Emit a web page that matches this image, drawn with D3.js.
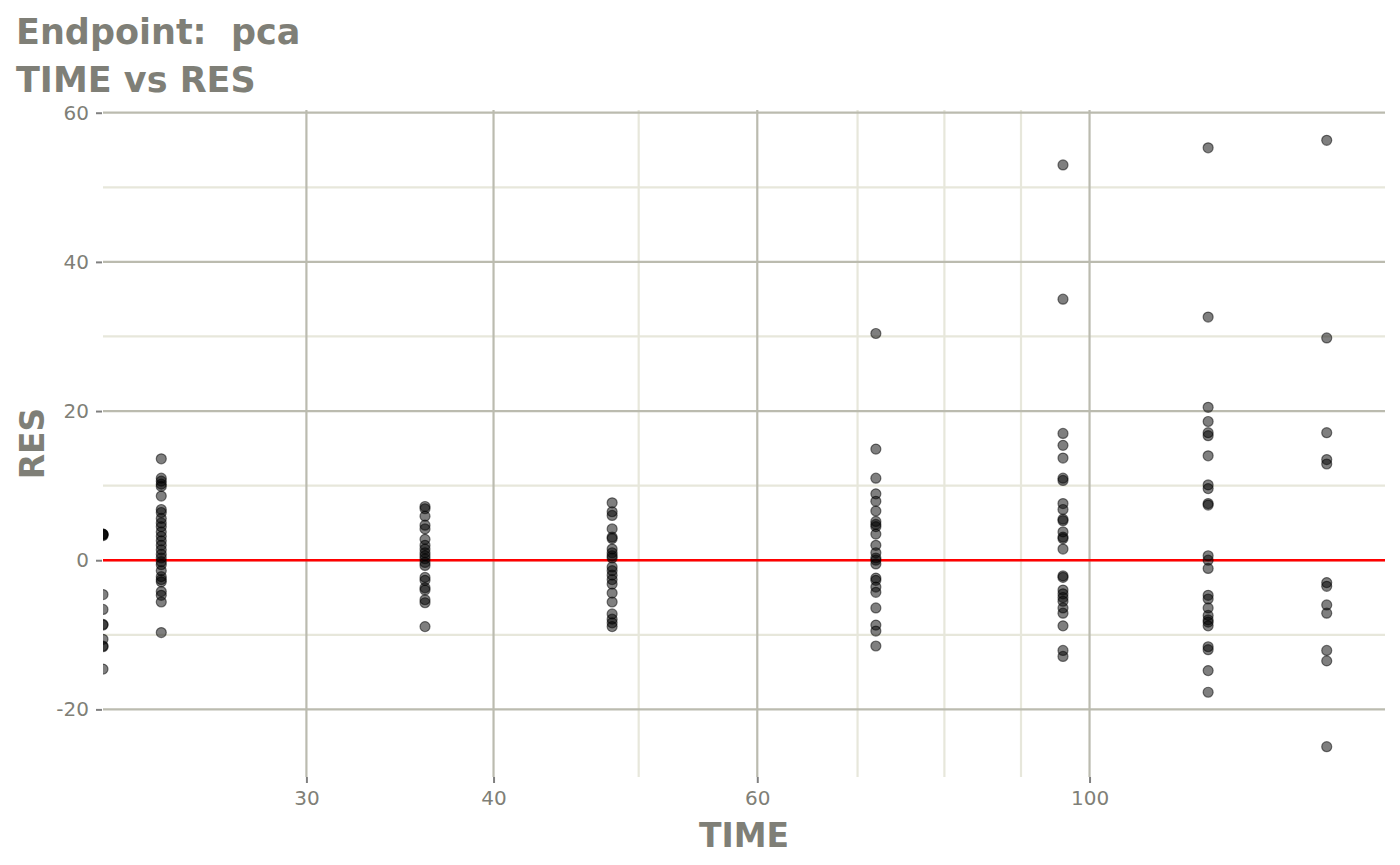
<!DOCTYPE html>
<html>
<head>
<meta charset="utf-8">
<script src="https://cdn.jsdelivr.net/npm/d3@7"></script>
<style>
  html, body { margin: 0; padding: 0; background: #ffffff; }
  svg { display: block; font-family: "DejaVu Sans", sans-serif; }
</style>
</head>
<body>
<svg id="chart" width="1400" height="865"></svg>
<script>
// ---- data ----
const titleLines = ["Endpoint:  pca", "TIME vs RES"];
const xLabel = "TIME";
const yLabel = "RES";
const times = [0, 24, 36, 48, 72, 96, 120, 144];
const res0   = [3.5, 3.4, 3.5, 3.3, -4.6, -6.6, -8.7, -8.6, -10.6, -11.5, -11.6, -14.6];
const res24  = [13.6, 11.0, 10.6, 10.2, 9.9, 8.6, 6.8, 6.4, 5.6, 5.0, 4.5, 3.8, 3.2, 2.6, 2.0, 1.4, 0.8, 0.3, -0.2, -0.6, -1.4, -2.2, -2.6, -2.9, -4.2, -4.7, -5.6, -9.7];
const res36  = [7.2, 6.9, 5.9, 4.7, 4.2, 2.8, 2.0, 1.5, 1.0, 0.6, 0.2, -0.3, -0.7, -2.3, -2.7, -3.7, -4.0, -5.3, -5.7, -8.9];
const res48  = [7.7, 6.5, 6.0, 4.2, 3.1, 2.9, 1.5, 1.0, 0.6, 0.3, -0.9, -1.4, -2.0, -2.6, -3.2, -4.4, -5.6, -7.2, -7.9, -8.4, -8.9];
const res72  = [30.4, 14.9, 11.0, 8.9, 7.9, 6.6, 5.2, 4.8, 4.5, 3.5, 2.0, 1.0, 0.3, 0.0, -0.5, -2.4, -2.7, -3.6, -4.3, -6.4, -8.7, -9.5, -11.5];
const res96  = [53.0, 35.0, 17.0, 15.4, 13.7, 11.0, 10.7, 7.6, 6.8, 5.5, 5.3, 3.8, 3.1, 2.9, 1.5, -2.1, -2.3, -4.0, -4.5, -5.0, -5.5, -6.4, -7.1, -8.8, -12.1, -12.9];
const res120 = [55.3, 32.6, 20.5, 18.6, 17.1, 16.7, 14.0, 10.1, 9.6, 7.6, 7.4, 0.6, 0.0, -1.1, -4.7, -5.2, -6.4, -7.4, -8.0, -8.3, -8.8, -11.6, -12.0, -14.8, -17.7];
const res144 = [56.3, 29.8, 17.1, 13.5, 12.9, -3.0, -3.5, -6.0, -7.1, -12.1, -13.5, -25.0];
const resByTime = [res0, res24, res36, res48, res72, res96, res120, res144];
const xMajorTicks = [30, 40, 60, 100];
const xMinorTicks = [50, 70, 80, 90];
const yMajorTicks = [-20, 0, 20, 40, 60];
const yMinorTicks = [-10, 10, 30, 50];

// ---- build points ----
const points = [];
times.forEach((t, i) => resByTime[i].forEach(v => points.push({ time: t, res: v })));

// ---- layout ----
const svg = d3.select("#chart");
const panel = { left: 103, right: 1385, top: 110, bottom: 777 };
const textColor = "#7f7f77";

const finiteTimes = points.filter(d => d.time > 0).map(d => Math.log10(d.time));
const lx = d3.extent(finiteTimes);
const ex = (lx[1] - lx[0]) * 0.05;
const x = d3.scaleLog()
  .domain([Math.pow(10, lx[0] - ex), Math.pow(10, lx[1] + ex)])
  .range([panel.left, panel.right]);

const ye = d3.extent(points, d => d.res);
const ey = (ye[1] - ye[0]) * 0.05;
const y = d3.scaleLinear()
  .domain([ye[0] - ey, ye[1] + ey])
  .range([panel.bottom, panel.top]);

// clip
svg.append("defs").append("clipPath").attr("id", "clip")
  .append("rect")
  .attr("x", panel.left).attr("y", panel.top)
  .attr("width", panel.right - panel.left).attr("height", panel.bottom - panel.top);

// ---- grid ----
const grid = svg.append("g");
const minorColor = "#e7e7db";
const majorColor = "#bbbbaf";

grid.selectAll(".ymin").data(yMinorTicks).join("line")
  .attr("x1", panel.left).attr("x2", panel.right)
  .attr("y1", d => y(d)).attr("y2", d => y(d))
  .attr("stroke", minorColor).attr("stroke-width", 2.2);
grid.selectAll(".xmin").data(xMinorTicks).join("line")
  .attr("y1", panel.top).attr("y2", panel.bottom)
  .attr("x1", d => x(d)).attr("x2", d => x(d))
  .attr("stroke", minorColor).attr("stroke-width", 2.2);
grid.selectAll(".ymaj").data(yMajorTicks).join("line")
  .attr("x1", panel.left).attr("x2", panel.right)
  .attr("y1", d => y(d)).attr("y2", d => y(d))
  .attr("stroke", majorColor).attr("stroke-width", 2.2);
grid.selectAll(".xmaj").data(xMajorTicks).join("line")
  .attr("y1", panel.top).attr("y2", panel.bottom)
  .attr("x1", d => x(d)).attr("x2", d => x(d))
  .attr("stroke", majorColor).attr("stroke-width", 2.2);

// ---- axes ----
const fmt = d => String(d);
const xAxis = d3.axisBottom(x).tickValues(xMajorTicks).tickFormat(fmt).tickSize(6).tickPadding(8);
const gx = svg.append("g").attr("transform", `translate(0,${panel.bottom})`).call(xAxis);
gx.select(".domain").remove();
gx.selectAll(".tick line").attr("stroke", "#808080").attr("stroke-width", 2);
gx.selectAll(".tick text").attr("fill", textColor).attr("font-size", 20)
  .attr("font-family", "DejaVu Sans, sans-serif");

const yAxis = d3.axisLeft(y).tickValues(yMajorTicks).tickFormat(fmt).tickSize(6).tickPadding(7);
const gy = svg.append("g").attr("transform", `translate(${panel.left - 1},0)`).call(yAxis);
gy.select(".domain").remove();
gy.selectAll(".tick line").attr("stroke", "#808080").attr("stroke-width", 2);
gy.selectAll(".tick text").attr("fill", textColor).attr("font-size", 20)
  .attr("font-family", "DejaVu Sans, sans-serif");

// ---- reference line ----
svg.append("line")
  .attr("x1", panel.left).attr("x2", panel.right)
  .attr("y1", y(0)).attr("y2", y(0))
  .attr("stroke", "#ff0000").attr("stroke-width", 2.5);

// ---- points ----
svg.append("g").attr("clip-path", "url(#clip)")
  .selectAll("circle").data(points).join("circle")
  .attr("cx", d => d.time > 0 ? x(d.time) : panel.left)
  .attr("cy", d => y(d.res))
  .attr("r", 5)
  .attr("fill", "rgba(0,0,0,0.5)")
  .attr("stroke", "rgba(0,0,0,0.5)")
  .attr("stroke-width", 1.2);

// ---- titles ----
svg.append("g").selectAll("text").data(titleLines).join("text")
  .attr("x", 16).attr("y", (d, i) => 44 + i * 48)
  .attr("fill", textColor).attr("font-size", 35).attr("font-weight", "bold")
  .style("white-space", "pre").attr("xml:space", "preserve")
  .text(d => d);

svg.append("text")
  .attr("x", (panel.left + panel.right) / 2).attr("y", 847)
  .attr("text-anchor", "middle")
  .attr("fill", textColor).attr("font-size", 33).attr("font-weight", "bold")
  .text(xLabel);

svg.append("text")
  .attr("transform", `translate(44,${(panel.top + panel.bottom) / 2}) rotate(-90)`)
  .attr("text-anchor", "middle")
  .attr("fill", textColor).attr("font-size", 33).attr("font-weight", "bold")
  .text(yLabel);
</script>
</body>
</html>
